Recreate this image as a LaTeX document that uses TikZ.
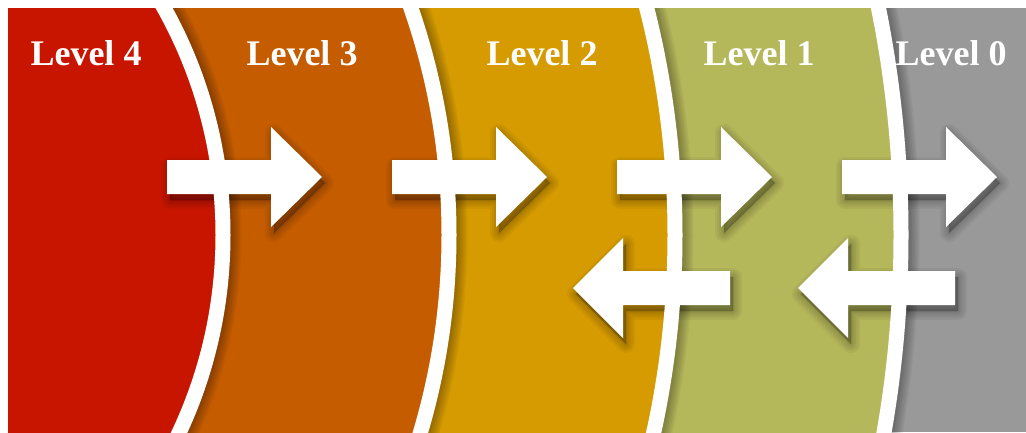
\documentclass[tikz,border=0pt]{standalone}
\usepackage{fontspec}
\setmainfont{Liberation Serif}
\definecolor{cRed}{HTML}{C81500}
\definecolor{cOrange}{HTML}{C55C00}
\definecolor{cAmber}{HTML}{D69B00}
\definecolor{cOlive}{HTML}{B5B75B}
\definecolor{cGray}{HTML}{999999}
\begin{document}
\begin{tikzpicture}[x=1pt,y=-1pt,
  rarrow/.pic={\path[pic actions] (0,-17) -- (104,-17) -- (104,-50) -- (155,0) -- (104,50) -- (104,17) -- (0,17) -- cycle;},
  larrow/.pic={\path[pic actions] (0,-17) -- (-107,-17) -- (-107,-50) -- (-157,0) -- (-107,50) -- (-107,17) -- (0,17) -- cycle;},
  shade/.style={fill=black, draw=black, line width=#1, opacity=0.045, line join=round},
  lab/.style={text=white, font=\fontsize{36}{36}\selectfont\bfseries, anchor=base, inner sep=0pt}]
\useasboundingbox (0,0) rectangle (1026,432);
\fill[white] (0,0) rectangle (1026,432);
\begin{scope}
  \clip (8,8) rectangle (1026,432);
  \fill[cGray] (8,8) rectangle (1026,432);
  \fill[cOlive] (-243,235) circle[radius=1144pt];
  \fill[cAmber] (-243,235) circle[radius=918pt];
  \fill[cOrange] (-243,235) circle[radius=692pt];
  \fill[cRed] (-243,235) circle[radius=466pt];
  % shadows cast by the white arcs
  \foreach \r in {466,692,918,1144}{
    \foreach \w in {3,6,9,12,15,18,21}
      \draw[black, opacity=0.045, line width=\w pt] (-243,235) circle[radius=\r pt+8pt];
  }
  % shadows of the arrows
  \foreach \x in {167,392,617,842}{
    \foreach \w in {18pt,14pt,10pt,6pt,3pt,0.5pt}
      \pic[shade=\w] at (\x+3,183) {rarrow};
  }
  \foreach \x in {730,955}{
    \foreach \w in {18pt,14pt,10pt,6pt,3pt,0.5pt}
      \pic[shade=\w] at (\x+3,294) {larrow};
  }
  % white arcs
  \foreach \r in {466,692,918,1144}
    \draw[white, line width=15pt] (-243,235) circle[radius=\r pt];
  % arrows
  \foreach \x in {167,392,617,842}
    \pic[fill=white] at (\x,177) {rarrow};
  \foreach \x in {730,955}
    \pic[fill=white] at (\x,288) {larrow};
\end{scope}
\node[lab] (l4) at (86,65) {Level 4};
\node[lab] (l3) at (302,65) {Level 3};
\node[lab] (l2) at (542,65) {Level 2};
\node[lab] (l1) at (759,65) {Level 1};
\node[lab] (l0) at (951,65) {Level 0};
\end{tikzpicture}
\end{document}
